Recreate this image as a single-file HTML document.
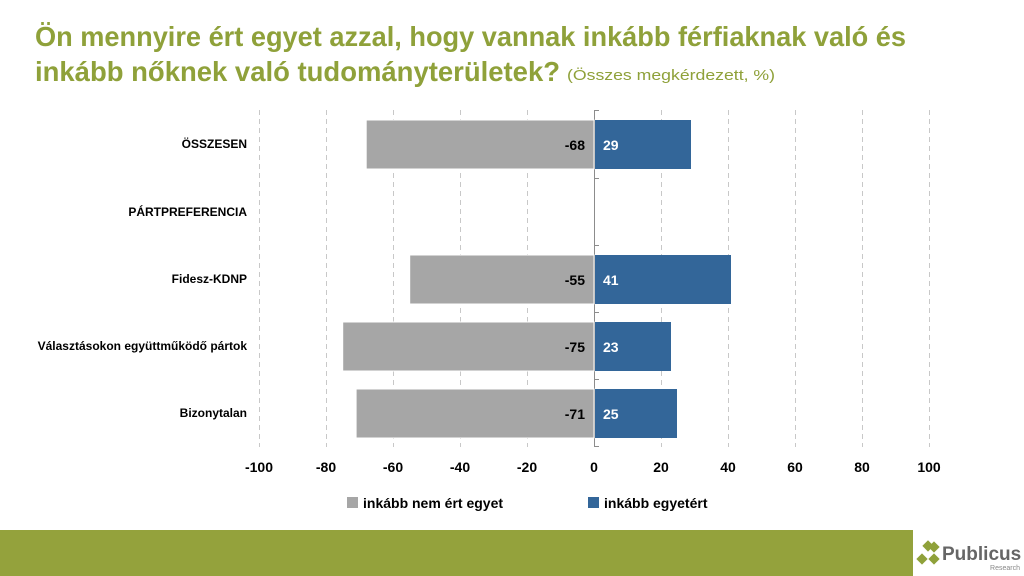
<!DOCTYPE html>
<html><head><meta charset="utf-8"><style>body{margin:0;background:#fff}svg{display:block}</style></head>
<body>
<svg width="1024" height="576" xmlns="http://www.w3.org/2000/svg" font-family="Liberation Sans, sans-serif">
<rect width="1024" height="576" fill="#fff"/>
<text x="35" y="46" font-size="28" font-weight="bold" fill="#8fa13a" textLength="871" lengthAdjust="spacingAndGlyphs">Ön mennyire ért egyet azzal, hogy vannak inkább férfiaknak való és</text>
<text x="35" y="81" font-size="28" font-weight="bold" fill="#8fa13a" textLength="525" lengthAdjust="spacingAndGlyphs">inkább nőknek való tudományterületek?</text>
<text x="567" y="80" font-size="15" fill="#8fa13a" textLength="208" lengthAdjust="spacingAndGlyphs">(Összes megkérdezett, %)</text>
<g stroke="#c8c8c8" stroke-dasharray="5,4" stroke-width="1">
<line x1="259.5" y1="110" x2="259.5" y2="447"/><line x1="326.5" y1="110" x2="326.5" y2="447"/>
<line x1="393.5" y1="110" x2="393.5" y2="447"/><line x1="460.5" y1="110" x2="460.5" y2="447"/>
<line x1="527.5" y1="110" x2="527.5" y2="447"/><line x1="661.5" y1="110" x2="661.5" y2="447"/>
<line x1="728.5" y1="110" x2="728.5" y2="447"/><line x1="795.5" y1="110" x2="795.5" y2="447"/>
<line x1="862.5" y1="110" x2="862.5" y2="447"/><line x1="929.5" y1="110" x2="929.5" y2="447"/>
</g>
<g stroke="#8c8c8c" stroke-width="1">
<line x1="594.5" y1="110" x2="594.5" y2="447"/>
<line x1="594" y1="110.5" x2="599" y2="110.5"/><line x1="594" y1="178.5" x2="599" y2="178.5"/>
<line x1="594" y1="245.5" x2="599" y2="245.5"/><line x1="594" y1="312.5" x2="599" y2="312.5"/>
<line x1="594" y1="379.5" x2="599" y2="379.5"/><line x1="594" y1="446.5" x2="599" y2="446.5"/>
</g>
<g fill="#a6a6a6" stroke="#fff" stroke-width="1">
<rect x="366.2" y="120" width="227.8" height="49"/>
<rect x="409.7" y="255" width="184.3" height="49"/>
<rect x="342.7" y="322" width="251.3" height="49"/>
<rect x="356.1" y="389" width="237.9" height="49"/>
</g>
<g fill="#336699">
<rect x="595" y="120" width="96" height="49"/>
<rect x="595" y="255" width="136" height="49"/>
<rect x="595" y="322" width="76" height="49"/>
<rect x="595" y="389" width="82" height="49"/>
</g>
<g font-size="14" font-weight="bold">
<g fill="#000" text-anchor="end">
<text x="585" y="150">-68</text><text x="585" y="285">-55</text><text x="585" y="352">-75</text><text x="585" y="419">-71</text>
</g>
<g fill="#fff">
<text x="603" y="150">29</text><text x="603" y="285">41</text><text x="603" y="352">23</text><text x="603" y="419">25</text>
</g>
</g>
<g font-size="12" font-weight="bold" fill="#000" text-anchor="end">
<text x="247" y="148">ÖSSZESEN</text>
<text x="247" y="216">PÁRTPREFERENCIA</text>
<text x="247" y="283">Fidesz-KDNP</text>
<text x="247" y="350">Választásokon együttműködő pártok</text>
<text x="247" y="417">Bizonytalan</text>
</g>
<g font-size="14" font-weight="bold" fill="#000" text-anchor="middle">
<text x="259" y="472">-100</text><text x="326" y="472">-80</text><text x="393" y="472">-60</text><text x="460" y="472">-40</text><text x="527" y="472">-20</text>
<text x="594" y="472">0</text><text x="661" y="472">20</text><text x="728" y="472">40</text><text x="795" y="472">60</text><text x="862" y="472">80</text><text x="929" y="472">100</text>
</g>
<rect x="347" y="497" width="11" height="11" fill="#a6a6a6"/>
<text x="363" y="508" font-size="14" font-weight="bold">inkább nem ért egyet</text>
<rect x="588" y="497" width="11" height="11" fill="#336699"/>
<text x="604" y="508" font-size="14" font-weight="bold">inkább egyetért</text>
<rect x="0" y="530" width="913" height="46" fill="#94a23c"/>
<g transform="translate(928,553)" fill="#8fa13a">
<rect x="-4" y="-4" width="8" height="8" transform="rotate(45) translate(-5,-5)"/>
<rect x="-4" y="-4" width="8" height="8" transform="translate(6,-6) rotate(45)"/>
<rect x="-4" y="-4" width="8" height="8" transform="translate(-6,6) rotate(45)"/>
<rect x="-4" y="-4" width="8" height="8" transform="translate(6,6) rotate(45)"/>
</g>
<text x="942" y="560" font-size="19" font-weight="bold" fill="#666">Publicus</text>
<text x="1020" y="570" font-size="7" fill="#888" text-anchor="end">Research</text>
</svg>
</body></html>
